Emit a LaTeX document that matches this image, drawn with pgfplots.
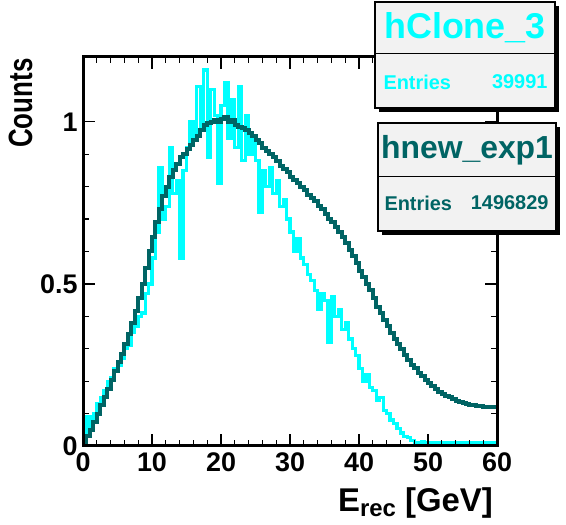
\documentclass[border=0pt]{standalone}
\usepackage{pgfplots}
\pgfplotsset{compat=1.18}
\usepackage{fontspec}
\setmainfont{Liberation Sans}
\definecolor{tealdark}{RGB}{0,100,100}
\definecolor{cyanh}{RGB}{0,255,255}
\definecolor{boxgray}{RGB}{242,242,242}
\begin{document}
\begin{tikzpicture}[x=1bp,y=1bp]
\path[use as bounding box] (0,0) rectangle (566,525);
\begin{axis}[
  at={(83bp,79bp)}, anchor=south west,
  scale only axis, width=414bp, height=389bp,
  xmin=0, xmax=60, ymin=0, ymax=1.2,
  xtick={0,10,...,60}, ytick={0,0.5,1},
  minor x tick num=4, minor y tick num=4,
  tick align=inside, major tick length=12bp, minor tick length=6bp,
  tick style={black, line width=1.2bp},
  axis line style={line width=3bp},
  ticklabel style={font=\fontsize{27}{27}\selectfont\bfseries},
  /pgf/number format/assume math mode=true,
  xticklabel style={yshift=-3bp},
  yticklabel style={xshift=-2bp},
  axis on top,
  clip=true,
]
\addplot[const plot, cyanh, line width=3.2bp] coordinates {
(0,0.02)(0.5,0.09)(1,0.06)(1.5,0.10)(2,0.13)(2.5,0.15)(3,0.17)(3.5,0.20)(4,0.21)(4.5,0.24)
(5,0.25)(5.5,0.27)(6,0.30)(6.5,0.31)(7,0.35)(7.5,0.37)(8,0.40)(8.5,0.41)(9,0.47)(9.5,0.50)
(10,0.58)(10.5,0.66)(11,0.86)(11.5,0.70)(12,0.74)(12.5,0.92)(13,0.78)(13.5,0.82)(14,0.58)(14.5,0.85)
(15,0.92)(15.5,1.00)(16,0.95)(16.5,1.11)(17,0.98)(17.5,1.16)(18,0.89)(18.5,1.10)(19,1.02)(19.5,0.81)
(20,1.05)(20.5,1.12)(21,0.95)(21.5,1.07)(22,0.92)(22.5,1.11)(23,0.88)(23.5,1.02)(24,0.90)(24.5,0.95)
(25,0.88)(25.5,0.72)(26,0.85)(26.5,0.80)(27,0.86)(27.5,0.78)(28,0.82)(28.5,0.74)(29,0.76)(29.5,0.70)
(30,0.66)(30.5,0.60)(31,0.64)(31.5,0.58)(32,0.56)(32.5,0.53)(33,0.51)(33.5,0.48)(34,0.42)(34.5,0.47)
(35,0.45)(35.5,0.32)(36,0.46)(36.5,0.40)(37,0.42)(37.5,0.36)(38,0.38)(38.5,0.33)(39,0.30)(39.5,0.28)
(40,0.24)(40.5,0.20)(41,0.22)(41.5,0.18)(42,0.17)(42.5,0.14)(43,0.15)(43.5,0.11)(44,0.10)(44.5,0.08)
(45,0.07)(45.5,0.055)(46,0.04)(46.5,0.03)(47,0.025)(47.5,0.018)(48,0.012)(48.5,0.01)(49,0.014)(49.5,0.01)
(50,0.01)(50.5,0.009)(51,0.011)(51.5,0.009)(52,0.01)(52.5,0.009)(53,0.01)(53.5,0.009)(54,0.01)(54.5,0.009)
(55,0.009)(55.5,0.01)(56,0.009)(56.5,0.01)(57,0.009)(57.5,0.01)(58,0.009)(58.5,0.01)(59,0.009)(59.5,0.01)
(60,0.01)
};
\addplot[const plot, tealdark, line width=4bp] coordinates {
(0,0.01)(0.5,0.03)(1,0.05)(1.5,0.075)(2,0.10)(2.5,0.125)(3,0.15)(3.5,0.175)(4,0.205)(4.5,0.23)
(5,0.26)(5.5,0.285)(6,0.315)(6.5,0.345)(7,0.38)(7.5,0.415)(8,0.455)(8.5,0.50)(9,0.55)(9.5,0.60)
(10,0.645)(10.5,0.69)(11,0.73)(11.5,0.77)(12,0.80)(12.5,0.83)(13,0.85)(13.5,0.87)(14,0.89)(14.5,0.90)
(15,0.915)(15.5,0.93)(16,0.945)(16.5,0.955)(17,0.975)(17.5,0.99)(18,0.995)(18.5,1.0)(19,1.005)(19.5,1.0)
(20,1.01)(20.5,1.015)(21,1.0)(21.5,1.005)(22,0.99)(22.5,0.985)(23,0.98)(23.5,0.975)(24,0.965)(24.5,0.955)
(25,0.945)(25.5,0.935)(26,0.92)(26.5,0.91)(27,0.90)(27.5,0.89)(28,0.88)(28.5,0.865)(29,0.855)(29.5,0.845)
(30,0.83)(30.5,0.82)(31,0.81)(31.5,0.80)(32,0.79)(32.5,0.775)(33,0.765)(33.5,0.755)(34,0.74)(34.5,0.73)
(35,0.715)(35.5,0.70)(36,0.69)(36.5,0.675)(37,0.66)(37.5,0.645)(38,0.625)(38.5,0.605)(39,0.585)(39.5,0.565)
(40,0.54)(40.5,0.52)(41,0.50)(41.5,0.48)(42,0.455)(42.5,0.43)(43,0.41)(43.5,0.39)(44,0.37)(44.5,0.35)
(45,0.33)(45.5,0.315)(46,0.30)(46.5,0.28)(47,0.265)(47.5,0.25)(48,0.24)(48.5,0.225)(49,0.215)(49.5,0.205)
(50,0.195)(50.5,0.185)(51,0.175)(51.5,0.168)(52,0.16)(52.5,0.155)(53,0.15)(53.5,0.145)(54,0.14)(54.5,0.136)
(55,0.133)(55.5,0.13)(56,0.128)(56.5,0.126)(57,0.124)(57.5,0.122)(58,0.12)(58.5,0.121)(59,0.12)(59.5,0.121)
(60,0.121)
};
\end{axis}
% axis titles
\node[anchor=base east, inner sep=0pt, font=\fontsize{33}{33}\selectfont\bfseries] at (493,13)
  {E\raisebox{-5bp}{\fontsize{24}{24}\selectfont rec} [GeV]};
\node[anchor=base west, rotate=90, inner sep=0pt, font=\fontsize{26}{26}\selectfont\bfseries] at (32,377)
  {\scalebox{1}[1.3]{Counts}};
% stat box 1
\fill[black] (379,413) rectangle (559,519);
\filldraw[fill=boxgray, draw=black, line width=1.5bp] (375,417) rectangle (555,523);
\draw[black, line width=1bp] (375,471) -- (555,471);
\node[cyanh, font=\fontsize{36}{36}\selectfont\bfseries] at (465,497) {hClone\_3};
\node[cyanh, anchor=west, font=\fontsize{20}{20}\selectfont\bfseries] at (380,443) {Entries};
\node[cyanh, anchor=east, font=\fontsize{20}{20}\selectfont\bfseries] at (551,443) {39991};
% stat box 2
\fill[black] (382,290) rectangle (560,398);
\filldraw[fill=boxgray, draw=black, line width=1.5bp] (378,294) rectangle (556,402);
\draw[black, line width=1bp] (378,348) -- (556,348);
\node[tealdark, font=\fontsize{32}{32}\selectfont\bfseries] at (467,375) {hnew\_exp1};
\node[tealdark, anchor=west, font=\fontsize{20}{20}\selectfont\bfseries] at (381,322) {Entries};
\node[tealdark, anchor=east, font=\fontsize{20}{20}\selectfont\bfseries] at (552,322) {1496829};
\end{tikzpicture}
\end{document}
